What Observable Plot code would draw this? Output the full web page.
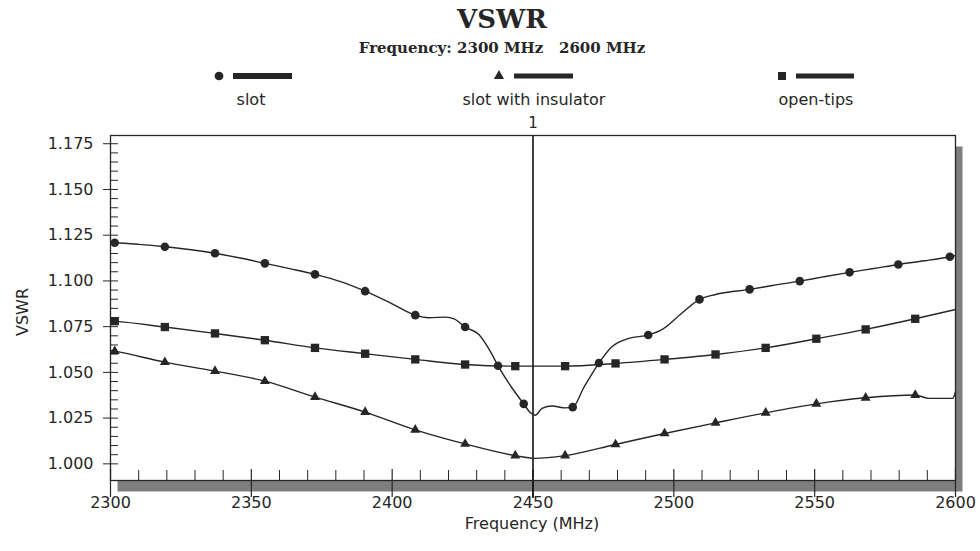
<!DOCTYPE html>
<html><head><meta charset="utf-8">
<script src="https://cdn.jsdelivr.net/npm/d3@7"></script>
<script src="https://cdn.jsdelivr.net/npm/@observablehq/plot@0.6"></script>
<style>
body{margin:0;background:#fff;}
#wrap{position:relative;width:980px;height:551px;overflow:hidden;}
#wrap svg{position:absolute;left:0;top:0;}
</style></head><body><div id="wrap"></div>
<script>
// ---- data ----
const xTicks = [2300, 2350, 2400, 2450, 2500, 2550, 2600];
const yTicks = [1.000, 1.025, 1.050, 1.075, 1.100, 1.125, 1.150, 1.175];
const seriesNames = ["slot", "slot with insulator", "open-tips"];
const markerFreq = 2450;
const markerLabel = "1";

// slot (circles)
const slotFreq = [2300,2301.5,2310,2319.3,2328,2337.1,2346,2354.8,2364,2372.6,2382,2390.4,2400,2408.2,2413,2419,2422,2425.9,2430.7,2434.8,2437.6,2442.5,2446.7,2449.1,2450.8,2453.2,2456.8,2461.5,2464.1,2468,2473.4,2478,2484,2490.9,2495.9,2503,2509.1,2514.8,2526.9,2535,2544.7,2553,2562.4,2571,2579.7,2589,2598,2600];
const slotVswr = [1.1210,1.1209,1.1200,1.1187,1.1172,1.1151,1.1125,1.1096,1.1066,1.1036,1.0995,1.0944,1.0875,1.0813,1.0799,1.0802,1.0792,1.0748,1.0708,1.0616,1.0536,1.0416,1.0328,1.0279,1.0266,1.0303,1.0316,1.0306,1.0310,1.0416,1.0551,1.0640,1.0686,1.0704,1.0735,1.0826,1.0899,1.0926,1.0954,1.0975,1.0999,1.1022,1.1047,1.1068,1.1090,1.1110,1.1132,1.1138];
const slotMarkFreq = [2301.5,2319.3,2337.1,2354.8,2372.6,2390.4,2408.2,2425.9,2437.6,2446.7,2464.1,2473.4,2490.9,2509.1,2526.9,2544.7,2562.4,2579.7,2598.0];
const slotMarkVswr = [1.1209,1.1187,1.1151,1.1096,1.1036,1.0944,1.0813,1.0748,1.0536,1.0328,1.0310,1.0551,1.0704,1.0899,1.0954,1.0999,1.1047,1.1090,1.1132];

// slot with insulator (triangles)
const insFreq = [2300,2301.5,2319.3,2337.1,2354.8,2372.6,2390.4,2408.2,2425.9,2443.7,2450.5,2461.4,2479.3,2496.7,2514.8,2532.6,2550.6,2568.1,2585.7,2590.6,2599,2600];
const insVswr = [1.0620,1.0616,1.0556,1.0507,1.0452,1.0365,1.0283,1.0186,1.0109,1.0045,1.0030,1.0045,1.0106,1.0166,1.0224,1.0279,1.0328,1.0361,1.0376,1.0358,1.0358,1.0394];
const insMarkFreq = [2301.5,2319.3,2337.1,2354.8,2372.6,2390.4,2408.2,2425.9,2443.7,2461.4,2479.3,2496.7,2514.8,2532.6,2550.6,2568.1,2585.7];
const insMarkVswr = [1.0616,1.0556,1.0507,1.0452,1.0365,1.0283,1.0186,1.0109,1.0045,1.0045,1.0106,1.0166,1.0224,1.0279,1.0328,1.0361,1.0376];

// open-tips (squares)
const openFreq = [2300,2301.5,2319.3,2337.1,2354.8,2372.6,2390.4,2408.2,2425.9,2443.7,2461.4,2479.3,2496.7,2514.8,2532.6,2550.6,2568.1,2585.7,2600];
const openVswr = [1.0782,1.0780,1.0748,1.0713,1.0676,1.0634,1.0602,1.0571,1.0543,1.0534,1.0534,1.0549,1.0571,1.0598,1.0634,1.0684,1.0735,1.0793,1.0844];
const openMarkFreq = [2301.5,2319.3,2337.1,2354.8,2372.6,2390.4,2408.2,2425.9,2443.7,2461.4,2479.3,2496.7,2514.8,2532.6,2550.6,2568.1,2585.7];
const openMarkVswr = [1.0780,1.0748,1.0713,1.0676,1.0634,1.0602,1.0571,1.0543,1.0534,1.0534,1.0549,1.0571,1.0598,1.0634,1.0684,1.0735,1.0793];

// ---- build tables ----
const toRows = (fs, vs) => fs.map((f, i) => ({f, v: vs[i]}));
const xMinor = d3.range(2310, 2600, 10).filter(d => d % 50 !== 0);
const yMinor = d3.range(0, 36).map(i => +(1 + i * 0.005).toFixed(3)).filter(d => Math.round(d * 1000) % 25 !== 0);

const W = 980, H = 551, mL = 110, mR = 25, mT = 135, mB = 71;
const fw = W - mL - mR, fh = H - mT - mB;
const ink = "#262626";
const font = "DejaVu Sans, sans-serif";

const chart = Plot.plot({
  width: W, height: H,
  marginLeft: mL, marginRight: mR, marginTop: mT, marginBottom: mB,
  x: {domain: [2300, 2600], label: null},
  y: {domain: [0.9909, 1.1795], label: null},
  style: {fontFamily: font, fontSize: "16px", color: ink, background: "transparent", overflow: "visible"},
  marks: [
    Plot.frame({fill: "#7e7e7e", stroke: null, dx: 7, dy: 11}),
    Plot.frame({fill: "white", stroke: null}),
    Plot.ruleY(yMinor, {y: d => d, insetRight: fw - 8, stroke: ink, strokeWidth: 1}),
    Plot.ruleY(yTicks, {y: d => d, dx: -7, insetRight: fw - 15, stroke: ink, strokeWidth: 1}),
    Plot.ruleX(xMinor, {x: d => d, insetTop: fh - 10, stroke: ink, strokeWidth: 1}),
    Plot.ruleX(xTicks, {x: d => d, insetTop: fh - 11, insetBottom: -17, stroke: ink, strokeWidth: 1.2}),
    Plot.axisY({ticks: yTicks, tickSize: 0, tickPadding: 17, tickFormat: d => d.toFixed(3), fontSize: 16, label: null}),
    Plot.axisX({ticks: xTicks, tickSize: 0, tickPadding: 16, tickFormat: d => String(d), fontSize: 16, label: null}),
    Plot.ruleX([markerFreq], {x: d => d, insetBottom: -18, stroke: "#111", strokeWidth: 1.6}),
    Plot.text([markerLabel], {x: markerFreq, frameAnchor: "top", dy: -8, lineAnchor: "bottom", text: d => d, fontSize: 15, fill: ink}),
    Plot.line(toRows(openFreq, openVswr), {x: "f", y: "v", curve: "monotone-x", stroke: ink, strokeWidth: 1.4}),
    Plot.line(toRows(insFreq, insVswr), {x: "f", y: "v", curve: "monotone-x", stroke: ink, strokeWidth: 1.4}),
    Plot.line(toRows(slotFreq, slotVswr), {x: "f", y: "v", curve: "monotone-x", stroke: ink, strokeWidth: 1.4}),
    Plot.dot(toRows(openMarkFreq, openMarkVswr), {x: "f", y: "v", symbol: "square", r: 4.7, fill: ink, stroke: null}),
    Plot.dot(toRows(insMarkFreq, insMarkVswr), {x: "f", y: "v", symbol: "triangle", r: 3.7, fill: ink, stroke: null}),
    Plot.dot(toRows(slotMarkFreq, slotMarkVswr), {x: "f", y: "v", symbol: "circle", r: 4.3, fill: ink, stroke: null}),
    Plot.frame({stroke: ink, strokeWidth: 1.3})
  ]
});
document.getElementById("wrap").appendChild(chart);

// ---- titles, legend and axis labels overlay ----
const ov = d3.select("#wrap").append("svg").attr("width", W).attr("height", H)
  .style("pointer-events", "none");
ov.append("text").attr("x", 502).attr("y", 28).attr("text-anchor", "middle")
  .attr("font-family", "DejaVu Serif, serif").attr("font-weight", "bold").attr("font-size", 26)
  .attr("fill", ink).text("VSWR");
ov.append("text").attr("x", 502).attr("y", 53).attr("text-anchor", "middle")
  .attr("font-family", "DejaVu Serif, serif").attr("font-weight", "bold").attr("font-size", 15)
  .attr("fill", ink).attr("xml:space", "preserve").style("white-space", "pre")
  .text("Frequency: 2300 MHz   2600 MHz");

const legendItems = [
  {name: seriesNames[0], sym: d3.symbolCircle, size: 60, sx: 219, bx: 233, bw: 59, bh: 6, cx: 251},
  {name: seriesNames[1], sym: d3.symbolTriangle, size: 45, sx: 499, bx: 514, bw: 59, bh: 5, cx: 534},
  {name: seriesNames[2], sym: d3.symbolSquare, size: 64, sx: 782, bx: 796, bw: 58, bh: 5, cx: 816}
];
legendItems.forEach(it => {
  ov.append("path").attr("d", d3.symbol(it.sym, it.size)()).attr("transform", `translate(${it.sx},76)`).attr("fill", ink);
  ov.append("rect").attr("x", it.bx).attr("y", 76 - it.bh / 2).attr("width", it.bw).attr("height", it.bh).attr("fill", ink);
  ov.append("text").attr("x", it.cx).attr("y", 105).attr("text-anchor", "middle")
    .attr("font-family", font).attr("font-size", 16).attr("fill", ink).text(it.name);
});
ov.append("text").attr("x", 532).attr("y", 529).attr("text-anchor", "middle")
  .attr("font-family", font).attr("font-size", 16).attr("fill", ink).text("Frequency (MHz)");
ov.append("text").attr("transform", "translate(28,312) rotate(-90)").attr("text-anchor", "middle")
  .attr("font-family", font).attr("font-size", 16).attr("fill", ink).text("VSWR");
</script></body></html>
